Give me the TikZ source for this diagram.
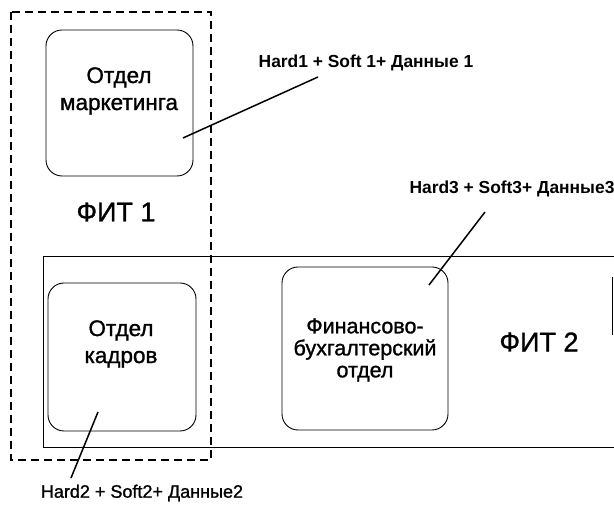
\documentclass[tikz,border=0pt]{standalone}
\usepackage{fontspec}
\setmainfont{Liberation Sans}
\newfontfamily\heavyfont[FakeBold=1.2]{Liberation Sans}
\begin{document}
\begin{tikzpicture}[x=1pt,y=-1pt,
  dept/.style={draw, line width=0.9pt, rounded corners=16pt},
  fitbox/.style={draw, line width=1pt},
  fitdash/.style={draw, line width=1.8pt, dash pattern=on 8pt off 5pt},
  lead/.style={line width=1.5pt},
  boxtext/.style={align=center, font=\heavyfont\fontsize{22.5}{27}\selectfont, inner sep=0pt},
  fintext/.style={align=center, font=\heavyfont\fontsize{21.5}{22}\selectfont, inner sep=0pt},
  fittext/.style={font=\heavyfont\fontsize{27}{30}\selectfont, inner sep=0pt},
  labtext/.style={font=\heavyfont\fontsize{18}{20}\selectfont, inner sep=0pt},
  labbold/.style={font=\fontsize{17.4}{20}\selectfont\bfseries, inner sep=0pt}]
\useasboundingbox (0,0) rectangle (614,510);
% FIT 2 band
\draw[fitbox] (614,257) -- (43,257) -- (43,448) -- (614,448);
\draw[fitbox] (612,277) -- (612,335);
% departments
\draw[dept] (46,30) rectangle (193,176);
\draw[dept] (48,283) rectangle (196,431);
\draw[dept] (282,267) rectangle (448,430);
% FIT 1 dashed
\draw[fitdash] (11,12) rectangle (211,460);
% texts
\node[boxtext] (mark) at (119,91) {Отдел\\маркетинга};
\node[boxtext] (kadr) at (121,344) {Отдел\\кадров};
\node[fintext] (fin) at (365,350) {Финансово-\\бухгалтерский\\отдел};
\node[fittext] (fit1) at (116,212) {ФИТ 1};
\node[fittext] (fit2) at (539,342) {ФИТ 2};
% labels
\node[labbold] (lab1) at (366,63) {Hard1 + Soft 1+ Данные 1};
\node[labbold] (lab3) at (512,189) {Hard3 + Soft3+ Данные3};
\node[labtext] (lab2) at (142,493) {Hard2 + Soft2+ Данные2};
% leaders
\coordinate (a1) at (318,77); \coordinate (b1) at (183,138);
\coordinate (a3) at (485,212); \coordinate (b3) at (429,285);
\coordinate (a2) at (71,478); \coordinate (b2) at (98,412);
\draw[lead] (a1) -- (b1);
\draw[lead] (a3) -- (b3);
\draw[lead] (a2) -- (b2);
\end{tikzpicture}
\end{document}
